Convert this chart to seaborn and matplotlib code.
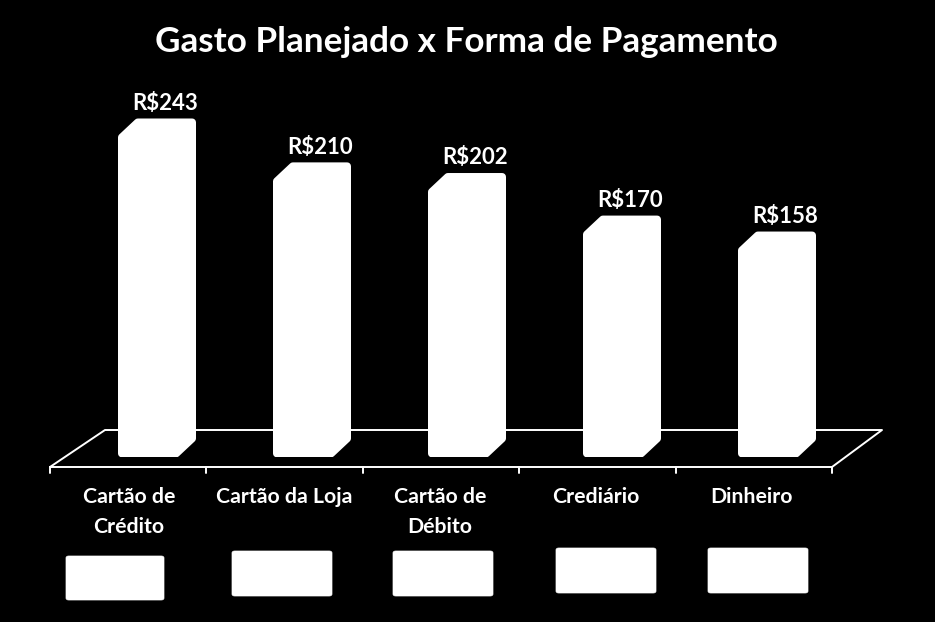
import numpy as np
import pandas as pd
import seaborn as sns
import matplotlib
matplotlib.use("Agg")
import matplotlib.pyplot as plt
from matplotlib.patches import Polygon, FancyBboxPatch
from matplotlib.lines import Line2D

categories = ["Cartão de\nCrédito", "Cartão da Loja", "Cartão de\nDébito", "Crediário", "Dinheiro"]
values = [243, 210, 202, 170, 158]
value_labels = ["R$243", "R$210", "R$202", "R$170", "R$158"]
title = "Gasto Planejado x Forma de Pagamento"

W, H = 935, 622
sns.set_theme(style="white")
plt.rcParams['font.family'] = ['Lato', 'DejaVu Sans']

fig = plt.figure(figsize=(W / 100, H / 100), dpi=100, facecolor="black")

def fx(px):
    return px / W

def fy(py):
    return 1 - py / H

# Floor (pseudo-3D) in pixel coordinates
floor = [(50, 467), (832, 467), (882, 430), (105, 430), (50, 467)]
fig.add_artist(Line2D([fx(p[0]) for p in floor], [fy(p[1]) for p in floor],
                      transform=fig.transFigure, color="white", lw=1.4, zorder=-1))
for i in range(6):
    tx = 50 + i * (832 - 50) / 5
    fig.add_artist(Line2D([fx(tx), fx(tx)], [fy(467), fy(473)],
                          transform=fig.transFigure, color="white", lw=1.4, zorder=-1))

# Bars axes
px_per_unit = 1.33
ax = fig.add_axes([fx(71.5), fy(457), 775 / W, 400 / H])
ax.set_facecolor("none")
df = pd.DataFrame({"cat": categories, "val": values})
sns.barplot(data=df, x="cat", y="val", color="white", width=0.37, ax=ax,
            saturation=1, edgecolor="white", linewidth=0)
ax.set_xlim(-0.5, 4.5)
ax.set_ylim(0, 400 / px_per_unit)
ax.axis("off")

ux = 1 / 155.0          # one pixel in x data units
uy = 1 / px_per_unit    # one pixel in y data units
dx = 16 * ux
dy = 15 * uy
ins = 3.5               # inset (px) compensating for the rounded stroke
for patch, lab in zip(ax.patches, value_labels):
    x0 = patch.get_x() + 1.5 * ux
    x1 = patch.get_x() + patch.get_width() - 1.5 * ux
    h = patch.get_height()
    patch.set_visible(False)
    poly = Polygon([(x0, ins * uy), (x0, h - ins * uy), (x0 + dx, h + dy - ins * uy),
                    (x1 + dx, h + dy - ins * uy), (x1 + dx, dy + ins * uy),
                    (x1, ins * uy)], closed=True, facecolor="white",
                   edgecolor="white", lw=5.5, joinstyle="round", zorder=3)
    ax.add_patch(poly)
    ax.text((x0 + x1 + dx) / 2 + 8 * ux, h + dy + 5 * uy, lab, ha="center", va="bottom",
            color="white", fontsize=16, fontweight="bold", zorder=4)

# Title
fig.text(fx(466), fy(42), title, ha="center", va="center", color="white",
         fontsize=25.3, fontweight="bold")

# Category labels
for i, c in enumerate(categories):
    cx = 129 + i * 155.5
    fig.text(fx(cx), fy(487), c, ha="center", va="top", color="white",
             fontsize=15.3, fontweight="bold", linespacing=1.65)

# Legend-like white boxes
boxes = [(66, 556, 98, 44), (232, 551, 100, 45), (393, 551, 100, 45),
         (556, 548, 100, 45), (708, 548, 100, 45)]
for (bx, by, bw, bh) in boxes:
    fig.add_artist(FancyBboxPatch((fx(bx), fy(by + bh)), bw / W, bh / H,
                                  boxstyle="round,pad=0,rounding_size=0.003",
                                  transform=fig.transFigure, facecolor="white",
                                  edgecolor="white", lw=0.5))

fig.savefig("out.png", dpi=100, facecolor="black")
